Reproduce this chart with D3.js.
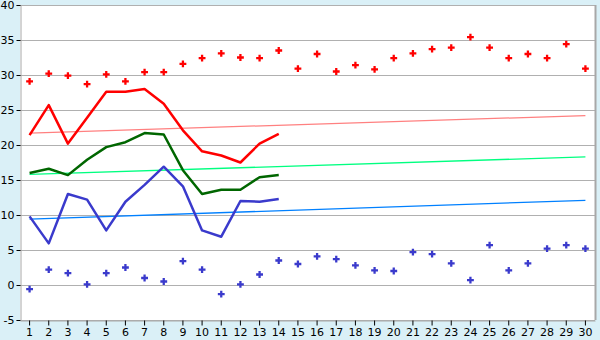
<!DOCTYPE html>
<html>
<head>
<meta charset="utf-8">
<script src="https://d3js.org/d3.v7.min.js"></script>
<style>
  body { margin: 0; background: #daf0f7; }
  svg { display: block; }
  .tick text { font-family: "DejaVu Sans", Verdana, sans-serif; font-size: 11px; fill: #000; }
</style>
</head>
<body>
<svg id="chart" width="600" height="340"></svg>
<script>
// days 1..30
const days = d3.range(1, 31);

// red: max temps (dots) and the 14-day line
const redDots = [29.1, 30.2, 29.9, 28.7, 30.1, 29.1, 30.4, 30.4, 31.6, 32.4,
                 33.1, 32.5, 32.4, 33.5, 30.9, 33.0, 30.5, 31.4, 30.8, 32.4,
                 33.1, 33.7, 33.9, 35.4, 33.9, 32.4, 33.0, 32.4, 34.4, 30.9];
const redLine = [21.4, 25.7, 20.2, 23.9, 27.6, 27.6, 28.0, 25.9, 22.1, 19.1,
                 18.5, 17.5, 20.2, 21.6];
const greenLine = [16.0, 16.6, 15.7, 17.9, 19.7, 20.4, 21.7, 21.5, 16.4, 13.0,
                   13.6, 13.6, 15.4, 15.7];
const blueLine = [9.8, 5.95, 13.0, 12.2, 7.8, 11.9, 14.3, 16.9, 14.1, 7.8,
                  6.9, 12.0, 11.9, 12.3];
const blueDots = [-0.6, 2.2, 1.7, 0.1, 1.7, 2.5, 1.0, 0.5, 3.4, 2.2,
                  -1.3, 0.1, 1.5, 3.5, 3.0, 4.1, 3.7, 2.8, 2.1, 2.0,
                  4.7, 4.4, 3.1, 0.7, 5.7, 2.1, 3.1, 5.2, 5.7, 5.2];
// trend lines: [value at day 1, value at day 30]
const redTrend = [21.7, 24.2];
const greenTrend = [15.8, 18.3];
const blueTrend = [9.4, 12.1];
const yTicks = [-5, 0, 5, 10, 15, 20, 25, 30, 35, 40];

const mLeft = 20, mRight = 595, mTop = 5, mBottom = 320;
const svg = d3.select("#chart");

const x = d3.scaleBand().domain(days).range([mLeft, mRight]);
const cx = d => x(d) + x.bandwidth() / 2;
const y = d3.scaleLinear().domain([-5, 40]).range([mBottom, mTop]);

// plot area
svg.append("rect")
    .attr("x", mLeft).attr("y", mTop)
    .attr("width", mRight - mLeft).attr("height", mBottom - mTop)
    .attr("fill", "#fff");

// grid
svg.append("g").selectAll("line")
    .data(yTicks)
    .join("line")
    .attr("x1", mLeft).attr("x2", mRight)
    .attr("y1", d => Math.round(y(d)) + 0.5).attr("y2", d => Math.round(y(d)) + 0.5)
    .attr("stroke", "#b0b0b0");

// right border
svg.append("line")
    .attr("x1", mRight + 0.5).attr("x2", mRight + 0.5)
    .attr("y1", mTop).attr("y2", mBottom)
    .attr("stroke", "#a8a8a8").attr("stroke-width", 2);

// axes
const yAxis = svg.append("g")
    .attr("transform", `translate(${mLeft + 0.5},0)`)
    .call(d3.axisLeft(y).tickValues(yTicks).tickFormat(d => String(d)).tickSize(4).tickPadding(2));
yAxis.select(".domain").attr("stroke", "#a8a8a8");
yAxis.selectAll(".tick line").attr("stroke", "#000");

const xAxis = svg.append("g")
    .attr("transform", `translate(0,${mBottom + 0.5})`)
    .call(d3.axisBottom(x).tickSize(5).tickPadding(3).tickSizeOuter(0));
xAxis.select(".domain").attr("stroke", "#a8a8a8");
xAxis.selectAll(".tick line").attr("stroke", "#000");

// trend lines
function trend(vals, color) {
  svg.append("line")
      .attr("x1", cx(1)).attr("x2", cx(30))
      .attr("y1", y(vals[0])).attr("y2", y(vals[1]))
      .attr("stroke", color).attr("stroke-width", 1.3);
}
trend(redTrend, "#ff8080");
trend(greenTrend, "#00ff80");
trend(blueTrend, "#0080ff");

// main lines
const line = d3.line().x((d, i) => cx(days[i])).y(d => y(d));
function series(vals, color) {
  svg.append("path")
      .attr("d", line(vals))
      .attr("fill", "none")
      .attr("stroke", color)
      .attr("stroke-width", 2.5)
      .attr("stroke-linejoin", "round");
}
series(redLine, "#ff0000");
series(greenLine, "#006600");
series(blueLine, "#3a3acc");

// markers
const sym = d3.symbol().type(d3.symbolCross).size(26);
function dots(vals, color) {
  svg.append("g").selectAll("path")
      .data(vals)
      .join("path")
      .attr("transform", (d, i) => `translate(${cx(days[i])},${y(d)})`)
      .attr("d", sym)
      .attr("fill", color);
}
dots(redDots, "#ff0000");
dots(blueDots, "#3a3acc");
</script>
</body>
</html>
